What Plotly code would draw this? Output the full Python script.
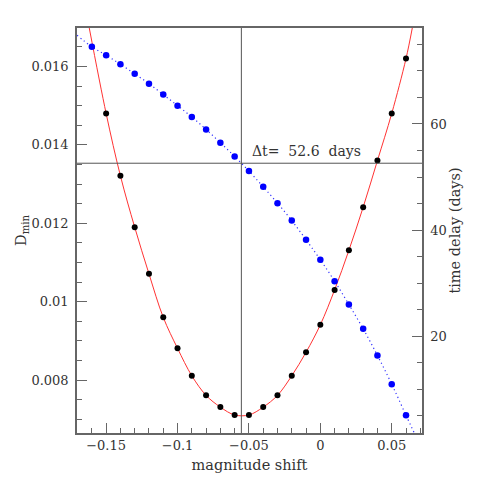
import plotly.graph_objects as go

# D_min (black points) versus magnitude shift
dmin_x = [-0.15, -0.14, -0.13, -0.12, -0.11, -0.10, -0.09, -0.08, -0.07, -0.06, -0.05,
          -0.04, -0.03, -0.02, -0.01, 0.0, 0.01, 0.02, 0.03, 0.04, 0.05, 0.06]
dmin_y = [0.0148, 0.01321, 0.0119, 0.01071, 0.0096, 0.00881, 0.00811, 0.00761, 0.00731, 0.00711, 0.00711,
          0.00731, 0.00761, 0.00811, 0.00871, 0.00941, 0.0103, 0.01131, 0.01241, 0.0136, 0.0148, 0.0162]

# time delay (blue points) versus magnitude shift
delay_x = [-0.16, -0.15, -0.14, -0.13, -0.12, -0.11, -0.10, -0.09, -0.08, -0.07, -0.06, -0.05,
           -0.04, -0.03, -0.02, -0.01, 0.0, 0.01, 0.02, 0.03, 0.04, 0.05, 0.06]
delay_y = [74.55, 72.96, 71.26, 69.45, 67.61, 65.54, 63.46, 61.32, 58.98, 56.47, 53.88, 51.12,
           48.15, 45.07, 41.79, 38.17, 34.39, 30.36, 25.96, 21.38, 16.35, 10.93, 5.07]

# where the fitted curves leave the frame
red_ends_x = [-0.1618, 0.0644]
red_ends_y = [0.01698, 0.01698]
blue_ends_x = [-0.1704, 0.0658]
blue_ends_y = [76.74, 1.73]

# best shift / delay crosshair
best_shift = -0.0553
best_delay = 52.6

red_x = [red_ends_x[0]] + dmin_x + [red_ends_x[1]]
red_y = [red_ends_y[0]] + dmin_y + [red_ends_y[1]]
blue_x = [blue_ends_x[0]] + delay_x + [blue_ends_x[1]]
blue_y = [blue_ends_y[0]] + delay_y + [blue_ends_y[1]]

font = "DejaVu Serif"
frame = "#666666"
xrange = [-0.1704, 0.0712]

fig = go.Figure()
fig.add_trace(go.Scatter(x=red_x, y=red_y, mode="lines", line=dict(color="#ff3333", width=1, shape="spline"),
                         hoverinfo="skip"))
fig.add_trace(go.Scatter(x=dmin_x, y=dmin_y, mode="markers", marker=dict(color="black", size=6)))
fig.add_trace(go.Scatter(x=blue_x, y=blue_y, mode="lines", yaxis="y2",
                         line=dict(color="#3333ff", width=1.2, dash="1.2px,3px", shape="spline"), hoverinfo="skip"))
fig.add_trace(go.Scatter(x=delay_x, y=delay_y, mode="markers", yaxis="y2", marker=dict(color="#0000ff", size=6.5)))

# crosshair
fig.add_shape(type="line", xref="x", yref="paper", x0=best_shift, x1=best_shift, y0=0, y1=1,
              line=dict(color="#555", width=1))
fig.add_shape(type="line", xref="paper", yref="y2", x0=0, x1=1, y0=best_delay, y1=best_delay,
              line=dict(color="#555", width=1))
fig.add_annotation(x=-0.0495, y=best_delay, xref="x", yref="y2", text="Δt=\u00a0 52.6\u00a0 days", showarrow=False,
                   xanchor="left", yanchor="bottom", yshift=2, font=dict(family=font, size=14, color="#333"))

fig.update_layout(
    width=483, height=477,
    margin=dict(l=69, r=69, t=20, b=52),
    plot_bgcolor="white", paper_bgcolor="white",
    showlegend=False,
    font=dict(family=font, size=13, color="#333"),
    xaxis=dict(range=xrange, dtick=0.05, tick0=0, ticks="inside", ticklen=10, tickcolor=frame,
               showgrid=False, zeroline=False, showline=True, linecolor=frame, linewidth=1.5, mirror=True,
               minor=dict(dtick=0.01, ticks="inside", ticklen=5, tickcolor=frame),
               title=dict(text="magnitude shift", font=dict(size=14.5), standoff=8)),
    # top axis only repeats the tick marks
    xaxis2=dict(range=xrange, overlaying="x", side="top", dtick=0.05, tick0=0, ticks="inside", ticklen=10,
                tickcolor=frame, showticklabels=False, showgrid=False, zeroline=False,
                minor=dict(dtick=0.01, ticks="inside", ticklen=5, tickcolor=frame)),
    yaxis=dict(range=[0.00665, 0.01698], dtick=0.002, tick0=0, ticks="inside", ticklen=10, tickcolor=frame,
               showgrid=False, zeroline=False, showline=True, linecolor=frame, linewidth=1.5,
               ticklabelstandoff=4,
               minor=dict(dtick=0.0005, ticks="inside", ticklen=5, tickcolor=frame),
               title=dict(text="D<sub>min</sub>", font=dict(size=14.5), standoff=0)),
    yaxis2=dict(range=[1.73, 78.1], dtick=20, tick0=0, ticks="inside", ticklen=10, tickcolor=frame,
                overlaying="y", side="right", showgrid=False, zeroline=False, showline=True,
                linecolor=frame, linewidth=1.5, ticklabelstandoff=4,
                minor=dict(dtick=5, ticks="inside", ticklen=5, tickcolor=frame),
                title=dict(text="time delay (days)", font=dict(size=14.5), standoff=4)),
)

fig.write_html("out.html")
